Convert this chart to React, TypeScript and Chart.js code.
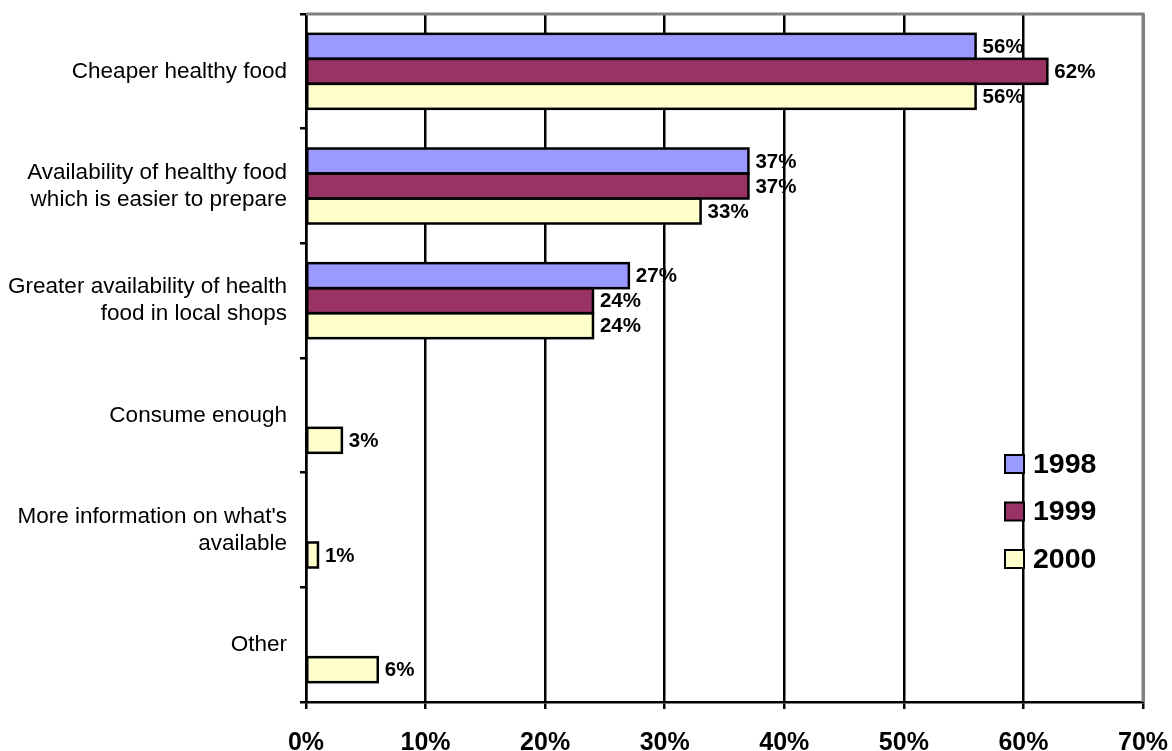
import React, { useEffect, useRef } from "react";
import { Chart, registerables } from "chart.js";

Chart.register(...registerables);

const categories: string[][] = [
  ["Cheaper healthy food"],
  ["Availability of healthy food", "which is easier to prepare"],
  ["Greater availability of health", "food in local shops"],
  ["Consume enough"],
  ["More information on what's", "available"],
  ["Other"],
];
const seriesNames = ["1998", "1999", "2000"];
const values1998: (number | null)[] = [56, 37, 27, null, null, null];
const values1999: (number | null)[] = [62, 37, 24, null, null, null];
const values2000: (number | null)[] = [56, 33, 24, 3, 1, 6];
const seriesColors = ["#9999FF", "#993366", "#FFFFCC"];
const xTicks = [0, 10, 20, 30, 40, 50, 60, 70];

const FONT = "'Liberation Sans', Arial, Helvetica, sans-serif";

const barOutlineAndLabels = {
  id: "barOutlineAndLabels",
  afterDatasetsDraw(chart: any) {
    const ctx = chart.ctx;
    ctx.save();
    ctx.strokeStyle = "#000";
    ctx.lineWidth = 2.5;
    chart.data.datasets.forEach((ds: any, di: number) => {
      const meta = chart.getDatasetMeta(di);
      meta.data.forEach((el: any, i: number) => {
        const v = ds.data[i];
        if (v === null || v === undefined) return;
        const { x, y, base, height } = el.getProps(["x", "y", "base", "height"], true);
        ctx.strokeRect(Math.min(base, x), y - height / 2, Math.abs(x - base), height);
      });
    });
    ctx.font = `bold 20.5px ${FONT}`;
    ctx.fillStyle = "#000";
    ctx.textAlign = "left";
    ctx.textBaseline = "middle";
    chart.data.datasets.forEach((ds: any, di: number) => {
      const meta = chart.getDatasetMeta(di);
      meta.data.forEach((el: any, i: number) => {
        const v = ds.data[i];
        if (v === null || v === undefined) return;
        ctx.fillText(`${v}%`, el.x + 7, el.y + 1);
      });
    });
    ctx.restore();
  },
};

const frameLegendPlugin = {
  id: "frameLegend",
  beforeDatasetsDraw(chart: any) {
    const { ctx, chartArea } = chart;
    ctx.save();
    ctx.strokeStyle = "#808080";
    ctx.lineWidth = 3;
    ctx.beginPath();
    ctx.moveTo(chartArea.left, chartArea.top);
    ctx.lineTo(chartArea.right, chartArea.top);
    ctx.lineTo(chartArea.right, chartArea.bottom);
    ctx.stroke();
    ctx.restore();
  },
  afterDatasetsDraw(chart: any) {
    const { ctx, chartArea } = chart;
    ctx.save();
    const boxX = chartArea.right - 138;
    const startY = chartArea.top + 450;
    const gap = 47.5;
    chart.data.datasets.forEach((ds: any, i: number) => {
      const cy = startY + i * gap;
      ctx.fillStyle = ds.backgroundColor;
      ctx.fillRect(boxX, cy - 9, 19, 18);
      ctx.strokeStyle = "#000";
      ctx.lineWidth = 2;
      ctx.strokeRect(boxX, cy - 9, 19, 18);
      ctx.fillStyle = "#000";
      ctx.font = `bold 28.5px ${FONT}`;
      ctx.textAlign = "left";
      ctx.textBaseline = "middle";
      ctx.fillText(ds.label, boxX + 28, cy + 1);
    });
    ctx.restore();
  },
};

export default function App() {
  const ref = useRef<HTMLCanvasElement>(null);
  useEffect(() => {
    if (!ref.current) return;
    const allSeries = [values1998, values1999, values2000];
    const chart = new Chart(ref.current, {
      type: "bar",
      data: {
        labels: categories,
        datasets: allSeries.map((vals, i) => ({
          label: seriesNames[i],
          data: vals,
          backgroundColor: seriesColors[i],
          borderWidth: 0,
          categoryPercentage: 0.654,
          barPercentage: 1,
        })),
      },
      options: {
        indexAxis: "y",
        responsive: false,
        animation: false,
        layout: { padding: { top: 14, right: 29, left: 0, bottom: 0 } },
        plugins: { legend: { display: false }, tooltip: { enabled: false } },
        scales: {
          x: {
            type: "linear",
            min: 0,
            max: 70,
            afterBuildTicks(scale: any) {
              scale.ticks = xTicks.map((v) => ({ value: v }));
            },
            afterFit(scale: any) {
              scale.height = 49;
              scale.paddingLeft = 0;
              scale.paddingRight = 0;
            },
            ticks: {
              color: "#000",
              font: { family: FONT, size: 25, weight: "bold" },
              padding: 19,
              maxRotation: 0,
              callback: (v: any) => `${v}%`,
            },
            grid: { color: "#000", lineWidth: 2.5, tickLength: 7, drawOnChartArea: true },
            border: { display: true, color: "#000", width: 2.5 },
          },
          y: {
            type: "category",
            offset: true,
            afterFit(scale: any) {
              scale.width = 306;
              scale.paddingTop = 0;
              scale.paddingBottom = 0;
            },
            ticks: {
              color: "#000",
              font: { family: FONT, size: 22.5 },
              padding: 13,
              autoSkip: false,
            },
            grid: { offset: true, drawOnChartArea: false, drawTicks: true, tickLength: 6, color: "#000", lineWidth: 2.5 },
            border: { display: true, color: "#000", width: 2.5 },
          },
        },
      },
      plugins: [frameLegendPlugin, barOutlineAndLabels],
    } as any);
    return () => chart.destroy();
  }, []);
  return (
    <div style={{ position: "fixed", left: 0, top: 0, width: 1172, height: 751, background: "#fff" }}>
      <canvas ref={ref} width={1172} height={751} />
    </div>
  );
}
